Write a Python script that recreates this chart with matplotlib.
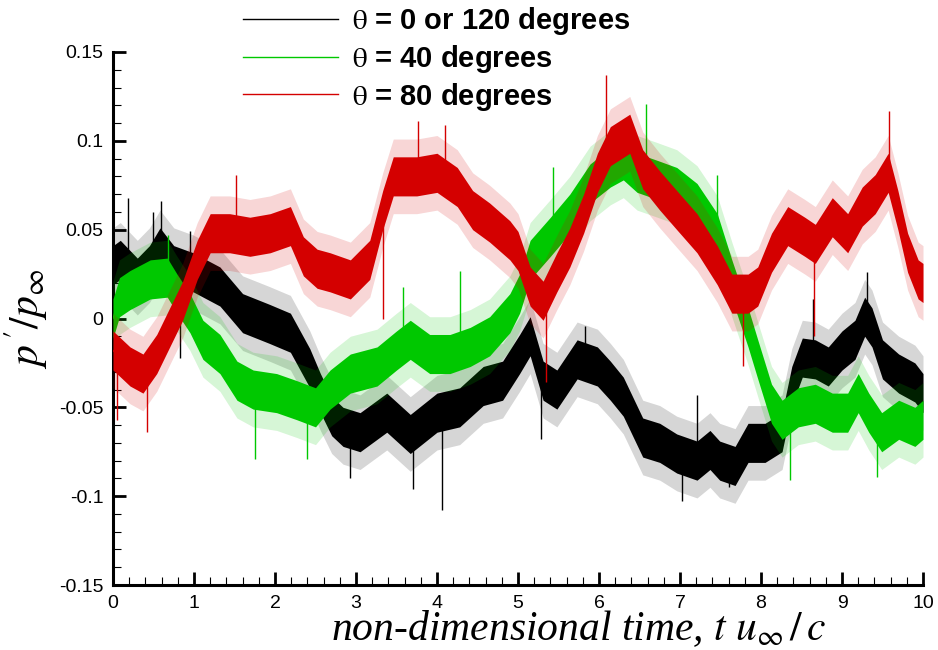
import numpy as np
import matplotlib
matplotlib.use('Agg')
import matplotlib.pyplot as plt
from matplotlib.ticker import MultipleLocator, FuncFormatter

plt.rcParams['font.family'] = ['Liberation Sans', 'DejaVu Sans']
plt.rcParams['mathtext.fontset'] = 'stix'
plt.rcParams['axes.unicode_minus'] = False

# pressure fluctuation p'/p_inf, theta = 0 or 120 deg (running mean of the signal)
t_0 = [0.0, 0.09, 0.3, 0.45, 0.58, 0.75, 0.99, 1.32, 1.6, 1.93, 2.19, 2.43, 2.56,
       2.7, 2.84, 3.05, 3.38, 3.67, 4.0, 4.28, 4.57, 4.81, 5.02, 5.15, 5.31, 5.48,
       5.73, 5.98, 6.14, 6.3, 6.54, 6.75, 6.96, 7.21, 7.37, 7.49, 7.68, 7.84, 8.05,
       8.26, 8.38, 8.51, 8.67, 8.83, 9.0, 9.16, 9.28, 9.37, 9.5, 9.7, 9.9, 10.0]
p_0 = [0.030, 0.033, 0.023, 0.030, 0.040, 0.030, 0.026, 0.018, 0.003, -0.003,
       -0.008, -0.028, -0.042, -0.055, -0.061, -0.064, -0.053, -0.065, -0.053,
       -0.050, -0.038, -0.035, -0.020, -0.010, -0.035, -0.040, -0.023, -0.027,
       -0.035, -0.044, -0.067, -0.070, -0.076, -0.080, -0.074, -0.080, -0.083,
       -0.070, -0.070, -0.064, -0.038, -0.022, -0.023, -0.027, -0.018, -0.012,
       0.001, -0.005, -0.023, -0.031, -0.036, -0.042]
spike_t_0 = [0.19, 0.49, 0.59, 0.83, 0.95, 2.92, 3.7, 4.06, 5.28, 5.83, 7.03, 7.21,
             7.6, 8.64, 9.31]
spike_p_0 = [0.068, 0.060, 0.066, -0.022, 0.049, -0.090, -0.096, -0.108, -0.068,
             -0.004, -0.103, -0.043, -0.095, 0.011, 0.026]

# theta = 40 deg
t_40 = [0.0, 0.08, 0.21, 0.46, 0.67, 0.79, 0.95, 1.11, 1.32, 1.53, 1.73, 2.02,
        2.27, 2.5, 2.68, 2.93, 3.26, 3.5, 3.67, 3.91, 4.16, 4.41, 4.65, 4.9, 5.02,
        5.15, 5.4, 5.64, 5.89, 6.14, 6.3, 6.47, 6.72, 6.96, 7.21, 7.46, 7.64, 7.84,
        7.96, 8.13, 8.26, 8.46, 8.67, 8.88, 9.07, 9.2, 9.33, 9.49, 9.7, 9.9, 10.0]
p_40 = [0.000, 0.012, 0.016, 0.022, 0.023, 0.014, 0.003, -0.012, -0.020, -0.035,
        -0.040, -0.042, -0.046, -0.050, -0.040, -0.031, -0.027, -0.018, -0.012,
        -0.020, -0.020, -0.016, -0.010, 0.003, 0.014, 0.033, 0.046, 0.059, 0.076,
        0.085, 0.089, 0.082, 0.078, 0.074, 0.065, 0.048, 0.022, -0.005, -0.023,
        -0.048, -0.057, -0.050, -0.048, -0.053, -0.053, -0.042, -0.053, -0.064,
        -0.057, -0.061, -0.057]
spike_t_40 = [0.68, 1.75, 2.39, 3.58, 4.28, 5.43, 6.58, 7.46, 8.36, 9.43]
spike_p_40 = [0.047, -0.079, -0.079, 0.018, 0.027, 0.085, 0.121, 0.081, -0.091,
              -0.089]

# theta = 80 deg
t_80 = [0.0, 0.21, 0.37, 0.54, 0.7, 0.86, 1.04, 1.2, 1.44, 1.69, 1.94, 2.19, 2.35,
        2.52, 2.68, 2.93, 3.17, 3.33, 3.46, 3.75, 4.0, 4.25, 4.44, 4.65, 4.9, 5.0,
        5.15, 5.31, 5.48, 5.64, 5.81, 5.98, 6.14, 6.38, 6.54, 6.75, 6.96, 7.21,
        7.46, 7.64, 7.84, 7.96, 8.13, 8.33, 8.54, 8.67, 8.88, 9.07, 9.25, 9.41,
        9.57, 9.69, 9.81, 9.94, 10.0]
p_80 = [-0.018, -0.027, -0.031, -0.020, -0.005, 0.010, 0.033, 0.048, 0.048, 0.046,
        0.048, 0.052, 0.035, 0.028, 0.026, 0.022, 0.033, 0.061, 0.080, 0.080,
        0.082, 0.074, 0.061, 0.054, 0.044, 0.038, 0.018, 0.010, 0.026, 0.040,
        0.059, 0.082, 0.097, 0.104, 0.084, 0.072, 0.061, 0.048, 0.030, 0.014,
        0.014, 0.018, 0.037, 0.052, 0.046, 0.042, 0.057, 0.048, 0.063, 0.070,
        0.082, 0.061, 0.037, 0.022, 0.020]
spike_t_80 = [0.05, 0.42, 1.52, 3.33, 3.77, 4.1, 5.35, 6.09, 7.78, 8.65, 9.58]
spike_p_80 = [-0.057, -0.064, 0.081, 0.000, 0.111, 0.109, -0.036, 0.137, -0.027,
              -0.010, 0.117]

labels = [r'$\mathrm{\theta}$ = 0 or 120 degrees',
          r'$\mathrm{\theta}$ = 40 degrees',
          r'$\mathrm{\theta}$ = 80 degrees']

band = 0.011    # half-width of the dense noisy part
halo = 0.021    # reach of the lighter fringe of spikes

fig = plt.figure(figsize=(9.38, 6.5), dpi=100)
ax = fig.add_axes([113/938., 65/650., 810/938., 533/650.])

series = [(t_0, p_0, spike_t_0, spike_p_0, 'black'),
          (t_40, p_40, spike_t_40, spike_p_40, '#00c800'),
          (t_80, p_80, spike_t_80, spike_p_80, '#d40000')]

for k, (t, p, st, sp, col) in enumerate(series):
    t = np.array(t)
    p = np.array(p)
    z = 2 + k
    ax.fill_between(t, p - halo, p + halo, color=col, alpha=0.16, lw=0, zorder=z)
    ax.fill_between(t, p - band, p + band, color=col, lw=0, zorder=z)
    ax.vlines(st, np.interp(st, t, p), sp, color=col, lw=1.0, zorder=z)
    ax.plot(t, p, color=col, lw=1.0, label=labels[k], zorder=z)

ax.set_xlim(0, 10)
ax.set_ylim(-0.15, 0.15)
ax.xaxis.set_major_locator(MultipleLocator(1))
ax.xaxis.set_minor_locator(MultipleLocator(0.2))
ax.yaxis.set_major_locator(MultipleLocator(0.05))
ax.yaxis.set_minor_locator(MultipleLocator(0.01))
fmt = FuncFormatter(lambda v, pos: '%g' % round(v, 3))
ax.xaxis.set_major_formatter(fmt)
ax.yaxis.set_major_formatter(fmt)

for s in ['top', 'right']:
    ax.spines[s].set_visible(False)
for s in ['left', 'bottom']:
    ax.spines[s].set_linewidth(2.2)
ax.tick_params(which='major', direction='in', length=9.5, width=2.0,
               labelsize=14, pad=7)
ax.tick_params(which='minor', direction='in', length=6, width=0.8)

ax.set_xlabel(r'non-dimensional time, $t\ u_{\infty}\,/\,c$', family='Liberation Serif',
              style='italic', fontsize=30)
# the axis title sits right of centre, baseline just above the bottom edge
ax.xaxis.set_label_coords(0.575, -0.103)
ax.xaxis.label.set_verticalalignment('baseline')
ax.set_ylabel(r'$p^{\,\prime}/p_{\infty}$', fontsize=30, labelpad=6)

fig.legend(loc='upper left', bbox_to_anchor=(243/938., 1 - 5/650.), frameon=False,
           prop=dict(weight='bold', size=21), handlelength=3.25, handletextpad=0.5,
           labelspacing=0.2, borderpad=0, borderaxespad=0)

fig.savefig('out.png', dpi=100)
